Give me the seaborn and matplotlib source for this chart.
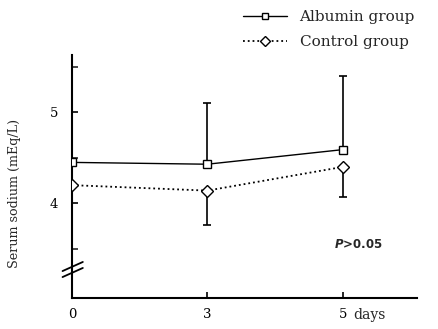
import numpy as np
import pandas as pd
import matplotlib
matplotlib.use("Agg")
import matplotlib.pyplot as plt
import seaborn as sns
from matplotlib.lines import Line2D

days = ["0", "3", "5"]
albumin_mean = [4.45, 4.43, 4.59]
albumin_sd_up = [0.0, 0.67, 0.81]
control_mean = [4.20, 4.14, 4.40]
control_sd_down = [0.0, 0.38, 0.33]
group_labels = ["Albumin group", "Control group"]

sns.set_theme(style="white")
plt.rcParams["font.family"] = ["DejaVu Serif", "Liberation Serif"]

fig = plt.figure(figsize=(4.38, 3.29), dpi=100)
ax = fig.add_axes([72 / 438, 1 - 298 / 329, 345 / 438, 243 / 329])

df_a = pd.DataFrame({"day": days, "val": albumin_mean})
df_c = pd.DataFrame({"day": days, "val": control_mean})

sns.pointplot(data=df_a, x="day", y="val", order=days, color="black",
              markers="s", linestyles="-", errorbar=None, ax=ax,
              markersize=5.5, markerfacecolor="white", markeredgewidth=1.0,
              linewidth=1.0, zorder=3)
sns.pointplot(data=df_c, x="day", y="val", order=days, color="black",
              markers="D", linestyles=":", errorbar=None, ax=ax,
              markersize=6, markerfacecolor="white", markeredgewidth=1.0,
              linewidth=1.3, zorder=3)

pos = np.arange(len(days))
ax.errorbar(pos[1:], albumin_mean[1:], yerr=[np.zeros(2), albumin_sd_up[1:]],
            fmt="none", ecolor="black", elinewidth=1.2, capsize=3, capthick=1.2, zorder=2)
ax.errorbar(pos[1:], control_mean[1:], yerr=[control_sd_down[1:], np.zeros(2)],
            fmt="none", ecolor="black", elinewidth=1.2, capsize=3, capthick=1.2, zorder=2)

ax.set_xlim(0, 2.55)
ax.set_ylim(2.96, 5.63)
ax.set_yticks([4, 5])
ax.set_yticks([3.5, 4.5, 5.5], minor=True)
ax.set_xticks(pos)
ax.set_xticklabels(days)
ax.tick_params(axis="both", direction="in", length=4, width=1.2, labelsize=9.5,
               pad=7, colors="black")
ax.tick_params(axis="y", pad=10)
ax.tick_params(axis="y", which="minor", direction="in", length=4, width=1.2, left=True)
ax.tick_params(left=True, bottom=True)
ax.set_xlabel("")
ax.set_ylabel("Serum sodium (mEq/L)", fontsize=9.2)
ax.yaxis.set_label_coords(-0.147, 0.43)

for s in ["top", "right"]:
    ax.spines[s].set_visible(False)
for s in ["left", "bottom"]:
    ax.spines[s].set_linewidth(1.5)
    ax.spines[s].set_color("black")

# axis break marks
for dy in (0, 6):
    ax.plot([-0.07, 0.08], [3.19 + dy / 91, 3.29 + dy / 91], color="black", lw=1.3,
            clip_on=False)

ax.annotate("days", xy=(2.08, 0), xycoords=("data", "axes fraction"),
            xytext=(0, -7), textcoords="offset points", fontsize=10,
            ha="left", va="top")

ax.text(1.94, 3.55, "$\\boldsymbol{P}$>0.05", fontsize=8.5, fontweight="bold",
        family="DejaVu Sans", ha="left", va="center")

handles = [
    Line2D([], [], color="black", ls="-", lw=1.0, marker="s", ms=5, mfc="white"),
    Line2D([], [], color="black", ls=":", lw=1.3, marker="D", ms=5.5, mfc="white"),
]
leg = fig.legend(handles, group_labels, loc="upper left",
                 bbox_to_anchor=(243 / 438, 1 - 10 / 329), frameon=False, fontsize=11,
                 handlelength=2.9, handletextpad=0.8, labelspacing=0.75,
                 borderpad=0, borderaxespad=0)

fig.savefig("out.png", dpi=100)
